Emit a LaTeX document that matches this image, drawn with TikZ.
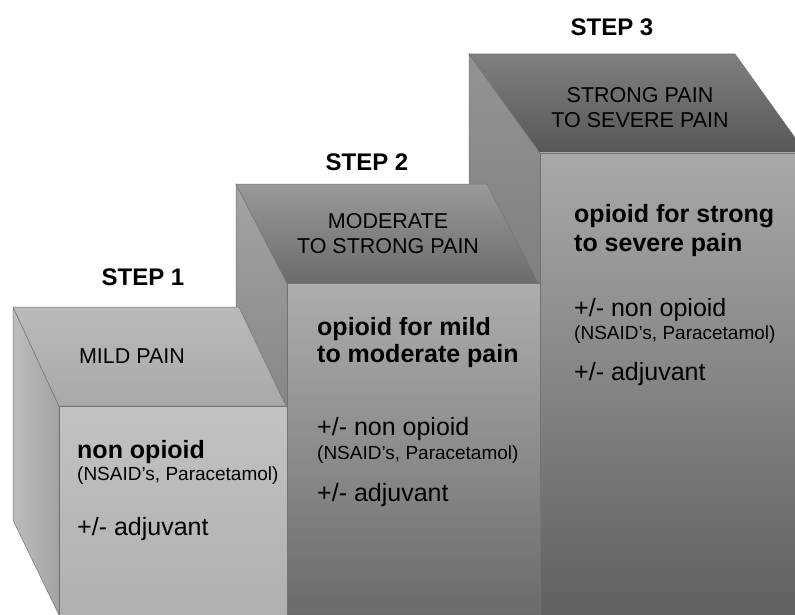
\documentclass[tikz,border=0pt]{standalone}
\usepackage{fontspec}
\setmainfont{Liberation Sans}
\begin{document}
\begin{tikzpicture}[x=1pt,y=-1pt,
  edge/.style={draw=black!55,line width=0.5pt},
  steplbl/.style={font=\fontsize{24}{28}\selectfont\bfseries,anchor=base,inner sep=0pt},
  toplbl/.style={font=\fontsize{21.5}{25}\selectfont,anchor=base,inner sep=0pt},
  mainlbl/.style={font=\fontsize{25}{28}\selectfont\bfseries,anchor=base west,inner sep=0pt},
  sublbl/.style={font=\fontsize{25}{28}\selectfont,anchor=base west,inner sep=0pt},
  smalllbl/.style={font=\fontsize{19}{22}\selectfont,anchor=base west,inner sep=0pt}]
\useasboundingbox (0,0) rectangle (795,615);
\begin{scope}
\clip (0,0) rectangle (795,615);
% ---------- box 3 ----------
\shade[top color=black!42,bottom color=black!62,edge] (469,54) -- (540,153) -- (540,615) -- (469,615) -- cycle;
\shade[top color=black!50,bottom color=black!66,edge] (469,54) -- (735,54) -- (806,153) -- (540,153) -- cycle;
\shade[top color=black!34,bottom color=black!62,edge] (540,153) rectangle (806,615);
% ---------- box 2 ----------
\shade[top color=black!36,bottom color=black!58,edge] (236,184) -- (287,283) -- (287,615) -- (236,615) -- cycle;
\shade[top color=black!40,bottom color=black!58,edge] (236,184) -- (487,184) -- (538,283) -- (287,283) -- cycle;
\shade[top color=black!32,bottom color=black!58,edge] (287,283) rectangle (540,615);
% ---------- box 1 ----------
\shade[left color=black!26,right color=black!36,edge] (13,307) -- (59,406) -- (59,615) -- (13,520) -- cycle;
\shade[top color=black!27,bottom color=black!34,edge] (13,307) -- (239,307) -- (286,406) -- (59,406) -- cycle;
\shade[top color=black!24,bottom color=black!31,edge] (59,406) rectangle (287,615);
\end{scope}
% ---------- step labels ----------
\node[steplbl] (s1) at (143,285) {STEP 1};
\node[steplbl] (s2) at (367,170) {STEP 2};
\node[steplbl] (s3) at (612,36) {STEP 3};
% ---------- top face labels ----------
\node[toplbl] (t1) at (132,363) {MILD PAIN};
\node[toplbl] (t2a) at (388,228) {MODERATE};
\node[toplbl] (t2b) at (388,253) {TO STRONG PAIN};
\node[toplbl] (t3a) at (640,103) {STRONG PAIN};
\node[toplbl] (t3b) at (640,128) {TO SEVERE PAIN};
% ---------- box 1 texts ----------
\node[mainlbl] (a1) at (77,458) {non opioid};
\node[smalllbl] (a2) at (77,480) {(NSAID’s, Paracetamol)};
\node[sublbl] (a3) at (77,535) {+/- adjuvant};
% ---------- box 2 texts ----------
\node[mainlbl] (b1) at (317,335) {opioid for mild};
\node[mainlbl] (b2) at (317,362.5) {to moderate pain};
\node[sublbl] (b3) at (317,435.5) {+/- non opioid};
\node[smalllbl] (b4) at (317,459.5) {(NSAID’s, Paracetamol)};
\node[sublbl] (b5) at (317,501.5) {+/- adjuvant};
% ---------- box 3 texts ----------
\node[mainlbl] (c1) at (574,222.5) {opioid for strong};
\node[mainlbl] (c2) at (574,251) {to severe pain};
\node[sublbl] (c3) at (574,316) {+/- non opioid};
\node[smalllbl] (c4) at (574,339) {(NSAID’s, Paracetamol)};
\node[sublbl] (c5) at (574,380) {+/- adjuvant};
\end{tikzpicture}
\end{document}
